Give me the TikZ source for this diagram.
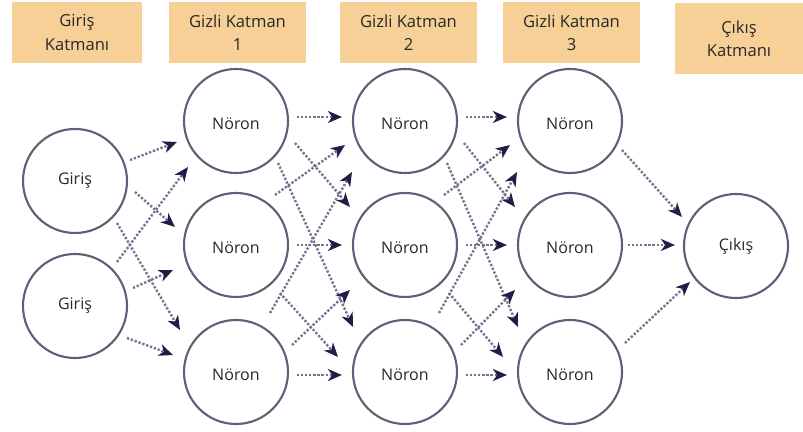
\documentclass[tikz,border=0pt]{standalone}
\usepackage{fontspec}
\setmainfont{Open Sans}
\usetikzlibrary{arrows.meta,calc}

\definecolor{headfill}{RGB}{246,208,150}
\definecolor{ringcol}{RGB}{95,95,120}
\definecolor{dotcol}{RGB}{115,115,145}
\definecolor{tipcol}{RGB}{30,30,70}
\definecolor{txtcol}{RGB}{40,40,40}

\tikzset{
    layerbox/.style={fill=headfill, draw=none, align=center, inner sep=0pt,
        minimum height=1.525cm, text=txtcol,
        font=\fontsize{11.8}{16.4}\selectfont},
    neuron/.style={circle, draw=ringcol, line width=1.5pt, fill=white,
        minimum size=2.6cm, inner sep=0pt, text=txtcol,
        font=\fontsize{11.4}{13}\selectfont},
    hidden/.style={neuron, text height=12.5pt, text depth=0pt},
    conn/.style={draw=dotcol, line width=1.7pt, dash pattern=on 1.6pt off 1.3pt,
        -{Stealth[length=10pt,width=8.5pt,inset=3pt,color=tipcol]}}
}

\begin{document}
\begin{tikzpicture}[x=0.025cm, y=-0.025cm]
        \useasboundingbox (0,0) rectangle (803,432);

        \node[layerbox, minimum width=3.25cm] (tin) at (77,32.5) {Giriş\\Katmanı};
        \node[layerbox, minimum width=3.425cm] (th1) at (237.5,32.5) {Gizli Katman\\1};
        \node[layerbox, minimum width=3.425cm] (th2) at (408.5,32.5) {Gizli Katman\\2};
        \node[layerbox, minimum width=3.425cm] (th3) at (571.5,32.5) {Gizli Katman\\3};
        \node[layerbox, minimum width=3.2cm, minimum height=1.775cm] (tout) at (739,38.5) {Çıkış\\Katmanı};

        \node[neuron] (g1) at (75,181) {Giriş};
        \node[neuron] (g2) at (75,306) {Giriş};

        \node[hidden] (h1a) at (236,121) {Nöron};
        \node[hidden] (h1b) at (236,245) {Nöron};
        \node[hidden] (h1c) at (236,372) {Nöron};
        \node[hidden] (h2a) at (405,121) {Nöron};
        \node[hidden] (h2b) at (405,245) {Nöron};
        \node[hidden] (h2c) at (405,372) {Nöron};
        \node[hidden] (h3a) at (570,121) {Nöron};
        \node[hidden] (h3b) at (570,245) {Nöron};
        \node[hidden] (h3c) at (570,372) {Nöron};

        \node[neuron] (out) at (736,246) {Çıkış};

        % giris -> gizli 1
        \foreach \s/\t/\sx/\sy/\tx/\ty in {g1/h1a/55/-21/-59/21, g1/h1b/60/11/-61/-18, g1/h1c/42/42/-56/-42,
                g2/h1a/42/-44/-48/46, g2/h1b/58/-18/-63/25, g2/h1c/52/32/-63/-17}
            \draw[conn] ($(\s)+(\sx,\sy)$) -- ($(\t)+(\tx,\ty)$);

        % gizli -> gizli
        \foreach \p/\q in {h1/h2, h2/h3}
            \foreach \s/\t/\sx/\sy/\tx/\ty in {a/a/61/-4/-63/-4, a/b/59/22/-55/-38, a/c/42/42/-52/-45,
                    b/a/39/-50/-60/24, b/b/61/0/-63/0, b/c/44/48/-67/-15,
                    c/a/34/-59/-53/51, c/b/56/-27/-55/45, c/c/61/3/-63/3}
                \draw[conn] ($(\p\s)+(\sx,\sy)$) -- ($(\q\t)+(\tx,\ty)$);

        % gizli 3 -> cikis
        \foreach \s/\sx/\sy/\tx/\ty in {h3a/52/29/-54/-29, h3b/58/0/-61/-1, h3c/55/-29/-46/36}
            \draw[conn] ($(\s)+(\sx,\sy)$) -- ($(out)+(\tx,\ty)$);
\end{tikzpicture}
\end{document}
